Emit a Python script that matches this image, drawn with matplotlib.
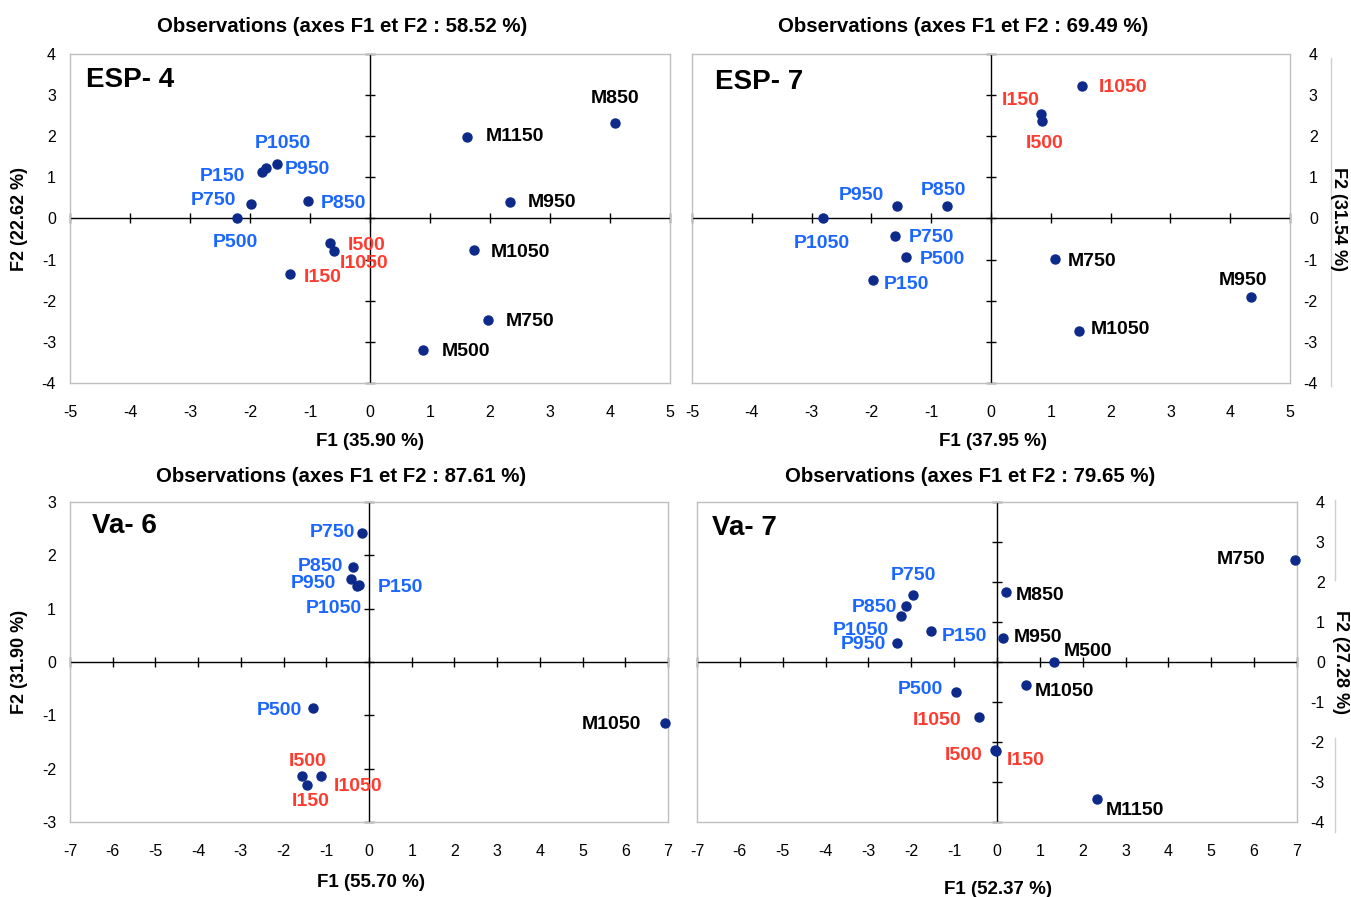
import matplotlib.pyplot as plt
from matplotlib.lines import Line2D

plt.rcParams['font.family'] = ['Liberation Sans', 'DejaVu Sans']
plt.rcParams['axes.unicode_minus'] = False

# ---- data ----
esp4_names = ['M850', 'M1150', 'M950', 'M1050', 'M750', 'M500', 'P1050', 'P950',
              'P150', 'P750', 'P500', 'P850', 'I500', 'I1050', 'I150']
esp4_f1 = [4.09, 1.62, 2.33, 1.74, 1.96, 0.89, -1.73, -1.55, -1.80, -1.99, -2.22, -1.04, -0.66, -0.60, -1.34]
esp4_f2 = [2.33, 1.98, 0.39, -0.77, -2.46, -3.19, 1.22, 1.33, 1.12, 0.35, 0.00, 0.43, -0.60, -0.78, -1.34]

esp7_names = ['I1050', 'I150', 'I500', 'P950', 'P850', 'P1050', 'P750', 'P500',
              'P150', 'M750', 'M950', 'M1050']
esp7_f1 = [1.53, 0.83, 0.86, -1.57, -0.74, -2.81, -1.60, -1.42, -1.98, 1.07, 4.35, 1.47]
esp7_f2 = [3.21, 2.54, 2.38, 0.31, 0.31, 0.00, -0.43, -0.94, -1.50, -0.99, -1.90, -2.73]

va6_names = ['P750', 'P850', 'P950', 'P150', 'P1050', 'P500', 'M1050', 'I500', 'I1050', 'I150']
va6_f1 = [-0.17, -0.38, -0.42, -0.24, -0.29, -1.32, 6.92, -1.57, -1.12, -1.45]
va6_f2 = [2.42, 1.78, 1.55, 1.45, 1.42, -0.87, -1.14, -2.14, -2.14, -2.30]

va7_names = ['M750', 'M850', 'P750', 'P850', 'P1050', 'P950', 'P150', 'M950', 'M500',
             'M1050', 'P500', 'I1050', 'I500', 'I150', 'M1150']
va7_f1 = [6.95, 0.22, -1.96, -2.12, -2.25, -2.33, -1.54, 0.14, 1.34, 0.68, -0.96, -0.42, -0.05, -0.02, 2.33]
va7_f2 = [2.55, 1.76, 1.67, 1.41, 1.14, 0.48, 0.78, 0.61, 0.00, -0.58, -0.75, -1.38, -2.20, -2.23, -3.42]

titles = ['Observations (axes F1 et F2 : 58.52 %)', 'Observations (axes F1 et F2 : 69.49 %)',
          'Observations (axes F1 et F2 : 87.61 %)', 'Observations (axes F1 et F2 : 79.65 %)']
xlabels = ['F1 (35.90 %)', 'F1 (37.95 %)', 'F1 (55.70 %)', 'F1 (52.37 %)']
ylabels = ['F2 (22.62 %)', 'F2 (31.54 %)', 'F2 (31.90 %)', 'F2 (27.28 %)']
panel_names = ['ESP- 4', 'ESP- 7', 'Va- 6', 'Va- 7']

# ---- label placement (pixel offsets, alignment) ----
esp4_off = [(0, 27, 'center'), (19, 4, 'left'), (18, 3, 'left'), (16, 1, 'left'), (18, 1, 'left'),
            (18, 1, 'left'), (17, 28, 'center'), (8, -3, 'left'), (-17, -1, 'right'), (-14, 7, 'right'),
            (-1, -21, 'center'), (13, 0, 'left'), (17, 1, 'left'), (6, -10, 'left'), (14, -1, 'left')]
esp7_off = [(16, 2, 'left'), (-1, 17, 'right'), (2, -20, 'center'), (-13, 13, 'right'), (-3, 18, 'center'),
            (-1, -22, 'center'), (13, 2, 'left'), (14, 1, 'left'), (11, -1, 'left'), (13, 1, 'left'),
            (-8, 19, 'center'), (12, 4, 'left')]
va6_off = [(-7, 3, 'right'), (-10, 4, 'right'), (-15, -1, 'right'), (19, 0, 'left'), (5, -19, 'right'),
           (-11, 1, 'right'), (-23, 1, 'right'), (6, 18, 'center'), (13, -7, 'left'), (4, -14, 'center')]
va7_off = [(-29, 3, 'right'), (9, -1, 'left'), (0, 23, 'center'), (-9, 1, 'right'), (-12, -11, 'right'),
           (-11, 1, 'right'), (11, -3, 'left'), (11, 3, 'left'), (9, 13, 'left'), (9, -3, 'left'),
           (-13, 5, 'right'), (-18, 0, 'right'), (-12, -2, 'right'), (11, -6, 'left'), (9, -9, 'left')]

W, H = 1351, 897
# rect in pixels: left, top, right, bottom
panels = [
    dict(rect=(70, 54, 670, 383), xlim=5, ylim=4, right=False, names=esp4_names, x=esp4_f1, y=esp4_f2,
         off=esp4_off, title_xy=(342, 26), xlab_xy=(370, 442), ylab_xy=(20, 219), name_xy=(0.027, 0.92)),
    dict(rect=(692, 54, 1290, 383), xlim=5, ylim=4, right=True, names=esp7_names, x=esp7_f1, y=esp7_f2,
         off=esp7_off, title_xy=(963, 26), xlab_xy=(993, 442), ylab_xy=(1339, 219), name_xy=(0.038, 0.914)),
    dict(rect=(70, 502, 668, 822), xlim=7, ylim=3, right=False, names=va6_names, x=va6_f1, y=va6_f2,
         off=va6_off, title_xy=(341, 476), xlab_xy=(371, 882), ylab_xy=(20, 662), name_xy=(0.037, 0.924)),
    dict(rect=(697, 502, 1297, 822), xlim=7, ylim=4, right=True, names=va7_names, x=va7_f1, y=va7_f2,
         off=va7_off, title_xy=(970, 476), xlab_xy=(998, 889), ylab_xy=(1341, 662), name_xy=(0.025, 0.918)),
]

colors = {'M': 'black', 'P': '#1a66ff', 'I': '#ff3b2f'}
dot = '#0d2a8a'

fig = plt.figure(figsize=(W / 100, H / 100), dpi=100)

for i, p in enumerate(panels):
    l, t, r, b = p['rect']
    ax = fig.add_axes([l / W, 1 - b / H, (r - l) / W, (b - t) / H])
    xl, yl = p['xlim'], p['ylim']
    ax.set_xlim(-xl, xl)
    ax.set_ylim(-yl, yl)
    xt = list(range(-xl, xl + 1))
    yt = list(range(-yl, yl + 1))
    ax.set_xticks(xt)
    ax.set_yticks(yt)
    for s in ax.spines.values():
        s.set_color('#bfbfbf')
        s.set_linewidth(1)
    ax.tick_params(length=0, labelsize=11.5, colors='black')
    ax.tick_params(axis='x', pad=16)
    if p['right']:
        ax.yaxis.tick_right()
        ax.tick_params(axis='y', pad=20)
        for lab in ax.get_yticklabels():
            lab.set_horizontalalignment('right')
    else:
        ax.tick_params(axis='y', pad=10)

    # zero axes with crossing tick marks
    ax.axhline(0, color='black', lw=1, zorder=1)
    ax.axvline(0, color='black', lw=1, zorder=1)
    ax.plot(xt, [0] * len(xt), ls='none', marker='|', ms=7, mew=1, color='black', clip_on=False, zorder=1)
    ax.plot([0] * len(yt), yt, ls='none', marker='_', ms=7, mew=1, color='black', clip_on=False, zorder=1)

    ax.plot(p['x'], p['y'], ls='none', marker='o', ms=6.5, color=dot, clip_on=False, zorder=3)
    for n, xv, yv, (dx, dy, ha) in zip(p['names'], p['x'], p['y'], p['off']):
        ax.annotate(n, (xv, yv), xytext=(dx, dy - 3), textcoords='offset pixels', ha=ha, va='center',
                    fontsize=14, fontweight='bold', color=colors[n[0]], zorder=4,
                    annotation_clip=False)

    ax.text(p['name_xy'][0], p['name_xy'][1], panel_names[i], transform=ax.transAxes,
            fontsize=20, fontweight='bold', ha='left', va='center')

    tx, ty = p['title_xy']
    fig.text(tx / W, 1 - ty / H, titles[i], ha='center', va='center', fontsize=14.7, fontweight='bold')
    xx, xy = p['xlab_xy']
    fig.text(xx / W, 1 - xy / H, xlabels[i], ha='center', va='center', fontsize=13.5, fontweight='bold')
    yx, yy = p['ylab_xy']
    fig.text(yx / W, 1 - yy / H, ylabels[i], ha='center', va='center', fontsize=13, fontweight='bold',
             rotation=270 if p['right'] else 90)

# faint chart-area border lines at the right side
fig.add_artist(Line2D([1331 / W, 1331 / W], [1 - 58 / H, 1 - 386 / H], color='#d0d0d0', lw=1))
fig.add_artist(Line2D([1335 / W, 1335 / W], [1 - 500 / H, 1 - 580 / H], color='#d0d0d0', lw=1))
fig.add_artist(Line2D([1335 / W, 1335 / W], [1 - 738 / H, 1 - 832 / H], color='#d0d0d0', lw=1))

fig.savefig('out.png', dpi=100)
